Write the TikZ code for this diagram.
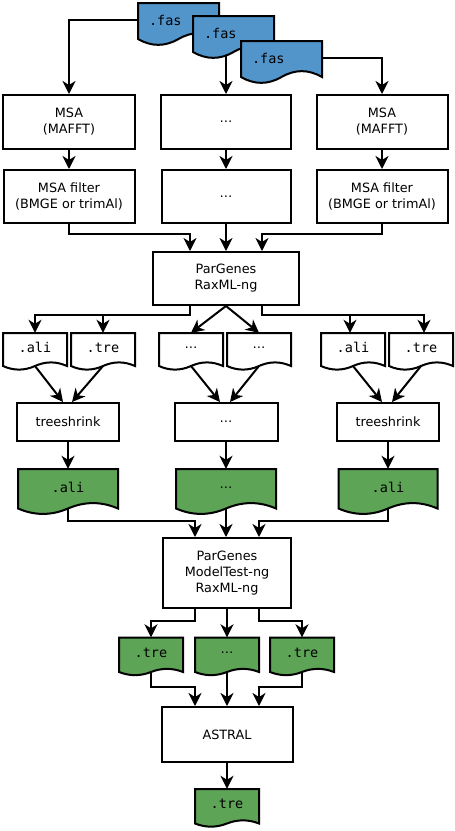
\documentclass[tikz,border=0pt]{standalone}
\usepackage{fontspec}
\setmainfont{DejaVu Sans}
\newfontfamily\monof{DejaVu Sans Mono}
\usetikzlibrary{arrows.meta,calc}
\definecolor{fasblue}{RGB}{82,149,203}
\definecolor{outgreen}{RGB}{94,164,86}
\pgfdeclarelayer{background}
\pgfsetlayers{background,main}
\tikzset{
  lw/.style={line width=2pt},
  box/.style={draw, lw, fill=white, align=center, inner sep=0pt, font=\fontsize{12.8}{16}\selectfont},
  docline/.style={draw, lw, line join=miter},
  docnode/.style={inner sep=0pt, font=\monof\fontsize{13.5}{16}\selectfont},
  arr/.style={lw, -{Stealth[length=13pt,width=13pt,inset=4pt]}},
}
\newcommand\ellip{{\normalfont\fontsize{12.8}{16}\selectfont …}}
% #1 name, #2 x, #3 y, #4 w, #5 h, #6 dy, #7 fill, #8 node options, #9 text
\newcommand\docnode[9]{%
  \filldraw[docline, fill=#7] (#2,#3) -- ({#2+#4},#3) -- ({#2+#4},{#3+#5-#6/2})
     .. controls ({#2+5*#4/6},{#3+#5-1.1*#6}) and ({#2+2*#4/3},{#3+#5-1.1*#6}) .. ({#2+#4/2},{#3+#5-#6/2})
     .. controls ({#2+#4/3},{#3+#5+0.1*#6}) and ({#2+#4/6},{#3+#5+0.1*#6}) .. (#2,{#3+#5-#6/2}) -- cycle;
  \node[docnode, minimum width=#4pt, minimum height={0.8*#5pt}, #8] (#1) at ({#2+#4/2},{#3+0.4*#5}) {#9};
  \coordinate (#1b) at ({#2+#4/2},{#3+#5-#6/2});
}
\begin{document}
\begin{tikzpicture}[x=1pt,y=-1pt]
\useasboundingbox (0,0) rectangle (455,831);

% input fasta files
\docnode{fas1}{138}{3}{81}{42.5}{13}{fasblue}{text width=59pt, inner xsep=11pt, align=left}{.fas}
\docnode{fas2}{193}{16}{81}{42.5}{13}{fasblue}{text width=59pt, inner xsep=11pt, align=left}{.fas}
\docnode{fas3}{241}{41}{81}{42.5}{13}{fasblue}{text width=59pt, inner xsep=11pt, align=left}{.fas}

% MSA
\node[box, minimum width=132pt, minimum height=54pt] (msa1) at (69,122) {MSA\\(MAFFT)};
\node[box, minimum width=130pt, minimum height=54pt] (msa2) at (226,122) {…};
\node[box, minimum width=131pt, minimum height=54pt] (msa3) at (382,122) {MSA\\(MAFFT)};

% filter
\node[box, minimum width=131pt, minimum height=53pt] (flt1) at (69,196.5) {MSA filter\\(BMGE or trimAl)};
\node[box, minimum width=129pt, minimum height=53pt] (flt2) at (226,196.5) {…};
\node[box, minimum width=131pt, minimum height=53pt] (flt3) at (382,196.5) {MSA filter\\(BMGE or trimAl)};

% ParGenes RaxML
\node[box, minimum width=146pt, minimum height=53pt] (par) at (226,278.5) {ParGenes\\RaxML-ng};

% per-gene outputs
\docnode{ali1}{3}{333}{64}{37}{8}{white}{}{.ali}
\docnode{tre1}{71}{333}{64}{37}{8}{white}{}{.tre}
\docnode{m1}{159}{333}{64}{37}{8}{white}{}{\ellip}
\docnode{m2}{227}{333}{64}{37}{8}{white}{}{\ellip}
\docnode{ali3}{321}{333}{64}{37}{8}{white}{}{.ali}
\docnode{tre3}{389}{333}{64}{37}{8}{white}{}{.tre}

% treeshrink
\node[box, minimum width=102pt, minimum height=38pt] (ts1) at (68,422) {treeshrink};
\node[box, minimum width=103pt, minimum height=38pt] (ts2) at (226,422) {…};
\node[box, minimum width=102pt, minimum height=38pt] (ts3) at (388,422) {treeshrink};

% filtered alignments
\docnode{g1}{18}{469}{100}{45.5}{12}{outgreen}{}{.ali}
\docnode{g2}{176}{469}{100}{45.5}{12}{outgreen}{}{\ellip}
\docnode{g3}{338.5}{469}{99}{45.5}{12}{outgreen}{}{.ali}

% ParGenes ModelTest RaxML
\node[box, minimum width=128pt, minimum height=70pt] (mt) at (227,573) {ParGenes\\ModelTest-ng\\RaxML-ng};

% gene trees
\docnode{gt1}{119}{637.5}{64}{38}{7}{outgreen}{}{.tre}
\docnode{gt2}{195}{637.5}{64}{38}{7}{outgreen}{}{\ellip}
\docnode{gt3}{270}{637.5}{64}{38}{7}{outgreen}{}{.tre}

% ASTRAL
\node[box, minimum width=131pt, minimum height=55pt] (astral) at (227,734.5) {ASTRAL};

% species tree
\docnode{fin}{195}{789}{64}{38}{7}{outgreen}{}{.tre}

\begin{pgfonlayer}{background}
\draw[arr] (fas1.west) -| (msa1.north);
\draw[arr] (fas2b -| msa2.north) -- (msa2.north);
\draw[arr] (fas3.east) -| (msa3.north);

\draw[arr] (msa1.south) -- (msa1.south |- flt1.north);
\draw[arr] (msa2.south) -- (msa2.south |- flt2.north);
\draw[arr] (msa3.south) -- (msa3.south |- flt3.north);

\draw[arr] (flt1.south) -- ++(0,10) -| ([xshift=-36pt]par.north);
\draw[arr] (flt2.south) -- (flt2.south |- par.north);
\draw[arr] (flt3.south) -- ++(0,10) -| ([xshift=36pt]par.north);

\draw[arr] ([xshift=-36pt]par.south) -- ++(0,9) -| (ali1.north);
\draw[arr] ([xshift=-36pt]par.south) -- ++(0,9) -| (tre1.north);
\draw[arr] (par.south) -- (m1.north);
\draw[arr] (par.south) -- (m2.north);
\draw[arr] ([xshift=36pt]par.south) -- ++(0,9) -| ([xshift=-3pt]ali3.north);
\draw[arr] ([xshift=36pt]par.south) -- ++(0,9) -| ([xshift=3pt]tre3.north);

\draw[arr] (ali1b) -- ([xshift=-5pt]ts1.north);
\draw[arr] (tre1b) -- ([xshift=4pt]ts1.north);
\draw[arr] (m1b) -- ([xshift=-6pt]ts2.north);
\draw[arr] (m2b) -- ([xshift=4pt]ts2.north);
\draw[arr] (ali3b) -- ([xshift=-6pt]ts3.north);
\draw[arr] (tre3b) -- ([xshift=4pt]ts3.north);

\draw[arr] (ts1.south) -- (ts1.south |- g1.north);
\draw[arr] (ts2.south) -- (ts2.south |- g2.north);
\draw[arr] (ts3.south) -- (ts3.south |- g3.north);

\draw[arr] (g1b) -- ++(0,12.5) -| ([xshift=-32pt]mt.north);
\draw[arr] (g2b) -- (g2b |- mt.north);
\draw[arr] (g3b) -- ++(0,12.5) -| ([xshift=32pt]mt.north);

\draw[arr] ([xshift=-32pt]mt.south) -- ++(0,12) -| (gt1.north);
\draw[arr] (mt.south) -- (mt.south |- gt2.north);
\draw[arr] ([xshift=32pt]mt.south) -- ++(0,12) -| (gt3.north);

\draw[arr] (gt1b) -- ++(0,14.5) -| ([xshift=-32pt]astral.north);
\draw[arr] (gt2b) -- (gt2b |- astral.north);
\draw[arr] (gt3b) -- ++(0,14.5) -| ([xshift=32pt]astral.north);

\draw[arr] (astral.south) -- (astral.south |- fin.north);
\end{pgfonlayer}
\end{tikzpicture}
\end{document}
